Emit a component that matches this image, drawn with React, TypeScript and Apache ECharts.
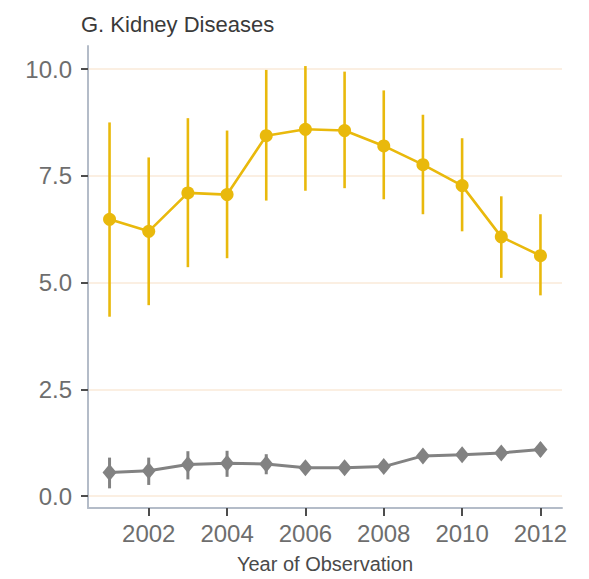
import React, { useEffect, useRef } from "react";
import * as echarts from "echarts";

const years = [2001, 2002, 2003, 2004, 2005, 2006, 2007, 2008, 2009, 2010, 2011, 2012];
const kidneyMean = [6.48, 6.2, 7.1, 7.06, 8.44, 8.59, 8.56, 8.2, 7.76, 7.27, 6.07, 5.63];
const kidneyLow = [4.2, 4.47, 5.36, 5.57, 6.92, 7.15, 7.21, 6.95, 6.6, 6.2, 5.11, 4.7];
const kidneyHigh = [8.75, 7.93, 8.85, 8.56, 9.98, 10.07, 9.94, 9.5, 8.93, 8.38, 7.02, 6.6];
const refMean = [0.55, 0.59, 0.74, 0.77, 0.75, 0.66, 0.66, 0.69, 0.94, 0.97, 1.01, 1.09];
const refLow = [0.18, 0.26, 0.39, 0.45, 0.51, 0.55, 0.56, 0.59, 0.8, 0.84, 0.88, 0.93];
const refHigh = [0.9, 0.9, 1.05, 1.06, 0.98, 0.77, 0.77, 0.8, 1.08, 1.1, 1.14, 1.25];
const xTicks = [2002, 2004, 2006, 2008, 2010, 2012];
const yTicks = [0, 2.5, 5, 7.5, 10];

const YELLOW = "#E9B90C";
const GRAY = "#828282";
const FONT = "Liberation Sans, Arial, sans-serif";

function errorSeries(low: number[], high: number[], color: string, width: number) {
  return {
    type: "custom",
    silent: true,
    data: years.map((y, i) => [y, low[i], high[i]]),
    encode: { x: 0, y: [1, 2] },
    renderItem: (params: any, api: any) => {
      const x = api.value(0);
      const p1 = api.coord([x, api.value(1)]);
      const p2 = api.coord([x, api.value(2)]);
      return {
        type: "line",
        shape: { x1: p1[0], y1: p1[1], x2: p2[0], y2: p2[1] },
        style: { stroke: color, lineWidth: width },
      };
    },
    z: 2,
  };
}

export default function App() {
  const ref = useRef<HTMLDivElement>(null);
  useEffect(() => {
    if (!ref.current) return;
    const chart = echarts.init(ref.current, null, { renderer: "svg" });
    chart.setOption({
      animation: false,
      backgroundColor: "#ffffff",
      title: {
        text: "G. Kidney Diseases",
        left: 76,
        top: 8,
        textStyle: { fontFamily: FONT, fontSize: 22, fontWeight: "normal", color: "#3a3a3a" },
      },
      grid: { left: 88, right: 27, top: 46, bottom: 71 },
      xAxis: {
        type: "value",
        min: 2000.45,
        max: 2012.55,
        name: "Year of Observation",
        nameLocation: "middle",
        nameGap: 46,
        nameTextStyle: { fontFamily: FONT, fontSize: 20, color: "#4a4a4a" },
        axisLine: { onZero: false, lineStyle: { color: "#b4bcc8", width: 2 } },
        axisTick: { show: true, length: 8, customValues: xTicks, lineStyle: { color: "#4d4d4d", width: 2 } },
        axisLabel: {
          customValues: xTicks,
          margin: 13,
          fontFamily: FONT,
          fontSize: 24,
          color: "#6e6e6e",
          formatter: (v: number) => String(v),
        },
        splitLine: { show: false },
      },
      yAxis: {
        type: "value",
        min: -0.28,
        max: 10.54,
        axisLine: { show: true, lineStyle: { color: "#b4bcc8", width: 2 } },
        axisTick: { show: true, length: 7, customValues: yTicks, lineStyle: { color: "#4d4d4d", width: 2 } },
        axisLabel: {
          customValues: yTicks,
          margin: 16,
          fontFamily: FONT,
          fontSize: 24,
          color: "#6e6e6e",
          formatter: (v: number) => v.toFixed(1),
        },
        splitLine: { show: true, lineStyle: { color: "#fbefe2", width: 2 } },
      },
      series: [
        errorSeries(refLow, refHigh, GRAY, 3),
        {
          type: "line",
          data: years.map((y, i) => [y, refMean[i]]),
          symbol: "diamond",
          symbolSize: [14, 17],
          itemStyle: { color: GRAY },
          lineStyle: { color: GRAY, width: 3 },
          z: 3,
        },
        errorSeries(kidneyLow, kidneyHigh, YELLOW, 2.6),
        {
          type: "line",
          data: years.map((y, i) => [y, kidneyMean[i]]),
          symbol: "circle",
          symbolSize: 13,
          itemStyle: { color: YELLOW },
          lineStyle: { color: YELLOW, width: 2.6 },
          z: 3,
        },
      ],
    });
    return () => chart.dispose();
  }, []);
  return <div ref={ref} style={{ width: 589, height: 579, position: "absolute", left: 0, top: 0 }} />;
}
